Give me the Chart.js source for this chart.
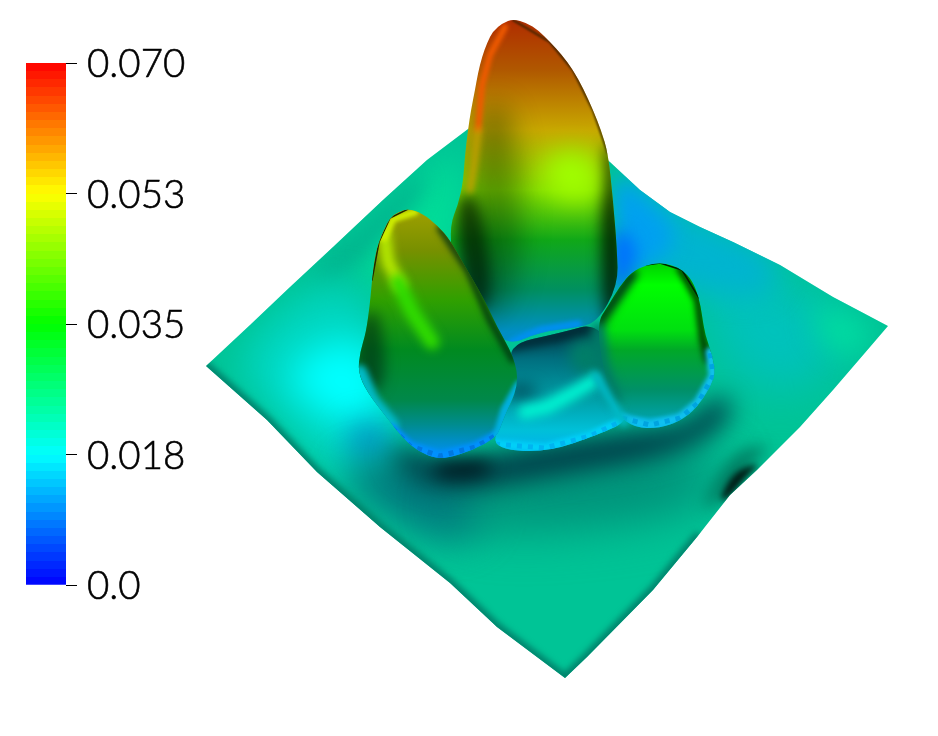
<!DOCTYPE html>
<html>
<head>
<meta charset="utf-8">
<title>Surface</title>
<script src="https://cdn.jsdelivr.net/npm/chart.js@4"></script>
<style>
  html, body { margin: 0; background: #fff; }
  #wrap { position: relative; width: 938px; height: 736px; overflow: hidden; }
  canvas { position: absolute; left: 0; top: 0; }
</style>
</head>
<body>
<div id="wrap">
  <canvas id="surface" width="938" height="736"></canvas>
  <canvas id="colorbar" width="200" height="736"></canvas>
</div>
<script>
// colour bar
const barRange = [0, 0.07];
const tickValues = [0, 0.0175, 0.035, 0.0525, 0.07];
const tickLabels = ["0.0", "0.018", "0.035", "0.053", "0.070"];
const rampColors = ["#0000ff", "#00ffff", "#00ff00", "#ffff00", "#ff0000"];

// outlines, in picture units
const baseOutline = [[206,366],[250,325],[290,287],[333,247],[383,200],[427,160],[468,129],[540,100],[610,162],[640,190],[670,212],[700,227],[733,242],[780,265],[833,297],[888,326],[833,390],[800,427],[757,470],[730,495],[697,537],[653,590],[587,657],[565,678],[497,627],[450,583],[380,527],[317,472],[267,420]];
const bigPeak = [[513,19],[503,23],[493,31],[487,43],[482,57],[478,73],[475,90],[471,110],[468,130],[465,155],[463,183],[458,205],[450,225],[452,260],[470,300],[492,330],[510,345],[540,332],[573,328],[597,323],[618,285],[617,250],[613,200],[608,153],[601,130],[593,110],[583,88],[573,70],[562,55],[550,42],[538,30],[527,23]];
const leftPeak = [[408,209],[398,212],[390,218],[384,230],[379,242],[375,256],[372,280],[370,303],[366,333],[360,352],[358,372],[367,392],[387,418],[407,443],[427,456],[445,459],[473,450],[497,437],[503,420],[519,385],[514,357],[497,327],[483,297],[463,263],[450,240],[438,226],[422,213]];
const rightPeak = [[660,263],[646,265],[632,272],[620,286],[608,306],[597,323],[603,370],[618,415],[635,428],[660,428],[680,421],[697,408],[716,378],[713,357],[705,335],[702,315],[699,298],[692,280],[682,270],[672,265]];
const ringBand = [[505,345],[560,333],[600,322],[625,380],[630,420],[600,434],[545,453],[490,448],[503,420],[519,385]];

// soft patches on the floor
const patchTopLeft = [[345,250],[430,172],[468,140],[462,290],[385,300]];
const patchEdgeTopLeft = [[300,285],[383,205],[427,168],[420,200],[340,280]];
const patchLeftTeal = [[225,362],[320,275],[385,305],[400,450],[340,490],[280,420]];
const patchLeftCyan = [[275,380],[330,335],[385,350],[385,425],[345,430]];
const patchLeftBlue = [[335,438],[375,412],[400,450],[370,470]];
const patchLowerLeft = [[330,470],[385,455],[500,480],[470,550],[395,525]];
const patchMiddle = [[430,490],[740,440],[705,510],[565,530],[465,530]];
const patchShadow = [[385,440],[450,468],[500,452],[620,432],[690,425],[720,390],[738,415],[680,456],[560,476],[470,492],[405,482]];
const patchShadowCore = [[425,464],[495,458],[490,476],[440,480]];
const patchRight = [[640,240],[780,272],[860,330],[800,400],[725,375],[700,280]];
const patchCorner = [[800,298],[885,327],[840,368]];
const patchTopEdge = [[612,160],[670,205],[735,235],[780,262],[770,300],[700,290],[640,280]];
const patchBlue = [[612,165],[640,195],[680,232],[660,262],[620,285]];
const patchDeepBlue = [[612,222],[640,245],[628,288],[612,295]];
const patchStreakHalo = [[775,445],[750,462],[715,505],[700,510],[735,450]];
const patchStreak = [[762,463],[748,474],[726,501],[719,499],[735,470]];
const rimLower = [[206,366],[267,420],[317,472],[380,527],[450,583],[497,627],[565,678],[587,657],[653,590],[697,537]];

// shading on the big peak
const bigShadeLeft = [[465,130],[505,90],[525,190],[515,300],[470,335]];
const bigShadeLow = [[452,200],[478,190],[495,300],[470,320]];
const bigShadeRight = [[602,120],[622,180],[624,330],[600,330]];
const bigGlow = [[535,160],[590,145],[604,195],[560,205]];
const bigRimLeft = [[505,27],[490,55],[482,85],[478,130]];
const bigRimLower = [[478,130],[474,165],[470,190]];
const bigFoot = [[512,342],[540,330],[578,324]];
const bigEdgeTop = [[513,20],[550,42],[573,70],[593,110],[608,153]];

// shading on the left peak
const leftHighlightTop = [[384,232],[388,262],[400,285]];
const leftHighlight = [[398,282],[412,312],[432,342]];
const leftShadow = [[358,320],[380,305],[388,392],[355,392]];
const leftEdge = [[440,228],[468,270],[490,320],[513,360]];
const leftTop = [[384,238],[393,219],[415,212]];
const leftSkirt = [[360,372],[372,400],[392,425]];
const leftFoot = [[392,428],[410,446],[440,456],[475,447],[497,435]];
const leftFootRight = [[497,437],[505,410],[519,385]];
const leftLine = [[408,209],[390,218],[379,242],[372,280]];

// shading on the right peak
const rightEdge = [[680,268],[698,300],[703,340],[708,360]];
const rightShadow = [[632,274],[612,303],[597,325]];
const rightSeam = [[598,330],[602,365],[614,398]];
const rightFoot = [[622,418],[650,425],[680,418],[698,403],[713,376],[710,352]];
const rightLine = [[646,265],[660,263],[682,270],[699,298]];

// ring between the peaks
const ringTop = [[510,346],[560,336],[598,328]];
const ringRidge = [[525,412],[547,407],[575,392],[597,379]];
const ringFoot = [[495,444],[545,448],[590,436],[620,422]];
const ringStrip = [[596,376],[610,400],[624,422]];
const ringHollow = [[505,385],[535,385],[540,395],[508,400]];
const ringGreen = [[565,345],[600,335],[605,372],[575,375]];

// draws one outline through the chart scales
const tracePath = (ctx, chart, pts, smooth, open) => {
  const p = pts.map(([x, y]) => [chart.scales.x.getPixelForValue(x), chart.scales.y.getPixelForValue(y)]);
  ctx.beginPath();
  if (open || !smooth) {
    p.forEach(([x, y], i) => (i ? ctx.lineTo(x, y) : ctx.moveTo(x, y)));
    if (!open) ctx.closePath();
    return;
  }
  const n = p.length;
  const mid = (a, b) => [(a[0] + b[0]) / 2, (a[1] + b[1]) / 2];
  ctx.moveTo(...mid(p[n - 1], p[0]));
  p.forEach((pt, i) => ctx.quadraticCurveTo(pt[0], pt[1], ...mid(pt, p[(i + 1) % n])));
  ctx.closePath();
};

class RegionController extends Chart.LineController {
  draw() {
    const ds = this.getDataset();
    const chart = this.chart;
    const ctx = chart.ctx;
    ctx.save();
    if (ds.clipTo) {
      tracePath(ctx, chart, ds.clipTo, ds.clipTo !== baseOutline);
      ctx.clip();
    }
    if (ds.blur) ctx.filter = `blur(${ds.blur}px)`;
    tracePath(ctx, chart, ds.pts, ds.smooth, ds.open);
    if (ds.open) {
      ctx.strokeStyle = ds.color;
      ctx.lineWidth = ds.width;
      ctx.lineCap = ds.dash ? "butt" : "round";
      ctx.lineJoin = "round";
      if (ds.dash) ctx.setLineDash(ds.dash);
      ctx.stroke();
    } else {
      let fill = ds.color;
      if (ds.stops) {
        const y0 = ds.stops[0][0];
        const y1 = ds.stops[ds.stops.length - 1][0];
        fill = ctx.createLinearGradient(0, chart.scales.y.getPixelForValue(y0), 0, chart.scales.y.getPixelForValue(y1));
        ds.stops.forEach(([y, c]) => fill.addColorStop((y - y0) / (y1 - y0), c));
      }
      ctx.fillStyle = fill;
      ctx.fill();
    }
    ctx.restore();
  }
}
RegionController.id = "region";
RegionController.defaults = Chart.LineController.defaults;
Chart.register(RegionController);

const area = (pts, color, blur, clipTo) => ({ pts, color, blur, clipTo, smooth: true });
const band = (pts, color, width, blur, clipTo) => ({ pts, color, width, blur, clipTo, open: true });
const teeth = (pts, color, width, clipTo) => ({ pts, color, width, clipTo, open: true, dash: [5, 6] });
const shaded = (pts, stops) => ({ pts, stops, smooth: true });

// bottom layer first
const layers = [
  { pts: baseOutline, color: "#00c496" },
  area(patchTopLeft, "#00dc98", 18, baseOutline),
  area(patchEdgeTopLeft, "#00b48e", 10, baseOutline),
  area(patchLeftTeal, "#00d6c0", 18, baseOutline),
  area(patchLeftCyan, "#00ffff", 18, baseOutline),
  area(patchLeftBlue, "#00a0c8", 14, baseOutline),
  area(patchLowerLeft, "#007c80", 18, baseOutline),
  area(patchMiddle, "#008e78", 24, baseOutline),
  area(patchRight, "#00c2bc", 24, baseOutline),
  area(patchCorner, "#00dca0", 14, baseOutline),
  area(patchTopEdge, "#00b4d0", 14, baseOutline),
  area(patchBlue, "#00a0f0", 10, baseOutline),
  area(patchDeepBlue, "#0070ff", 8, baseOutline),
  area(patchShadow, "#003c48", 13, baseOutline),
  area(patchShadowCore, "#00141c", 9, baseOutline),
  area(patchStreakHalo, "#007058", 8, baseOutline),
  area(patchStreak, "#001a14", 3, baseOutline),
  band(rimLower, "#00806a", 9, 3, baseOutline),

  shaded(bigPeak, [[19,"#b02c00"],[70,"#b05800"],[130,"#c8a800"],[190,"#88e000"],[240,"#10a818"],[290,"#009060"],[332,"#0090c8"]]),
  area(bigShadeLeft, "rgba(0,30,0,0.38)", 14, bigPeak),
  area(bigShadeLow, "rgba(0,15,0,0.65)", 7, bigPeak),
  area(bigShadeRight, "rgba(0,20,0,0.8)", 7, bigPeak),
  area(bigGlow, "#a0ff00", 13, bigPeak),
  band(bigRimLeft, "#f05a00", 6, 2, bigPeak),
  band(bigRimLower, "#c8a000", 6, 3, bigPeak),
  band(bigEdgeTop, "#302000", 2, 1, bigPeak),
  band(bigFoot, "#0090f0", 7, 2, bigPeak),

  shaded(ringBand, [[322,"#00303c"],[360,"#007080"],[400,"#00a0a8"],[430,"#00c0d8"],[453,"#00b0f0"]]),
  band(ringTop, "#002430", 9, 5, ringBand),
  area(ringGreen, "#007e68", 7, ringBand),
  area(ringHollow, "#004454", 8, ringBand),
  band(ringRidge, "#00f0d0", 14, 5, ringBand),
  band(ringFoot, "#00d0f8", 9, 2, ringBand),
  teeth(ringFoot, "#00b4f0", 5, ringBand),

  shaded(leftPeak, [[209,"#a0a000"],[250,"#789000"],[300,"#30a000"],[350,"#008a20"],[400,"#00884a"],[425,"#008c90"],[458,"#0090ff"]]),
  band(leftHighlightTop, "#b4e800", 13, 4, leftPeak),
  band(leftHighlight, "#30dc00", 15, 5, leftPeak),
  area(leftShadow, "rgba(0,40,20,0.6)", 7, leftPeak),
  band(leftEdge, "#003010", 6, 3, leftPeak),
  band(leftTop, "#d0f000", 7, 2, leftPeak),
  band(leftLine, "#202800", 1.5, 0, leftPeak),
  band(leftSkirt, "#00bcc8", 14, 3, leftPeak),
  band(leftFoot, "#0090ff", 9, 2, leftPeak),
  band(leftFootRight, "#00b0e0", 9, 2, leftPeak),
  teeth(leftFoot, "#0078e0", 5, leftPeak),

  shaded(rightPeak, [[263,"#00d000"],[285,"#00ff00"],[330,"#00e010"],[350,"#00a828"],[390,"#009068"],[415,"#00a0a0"],[428,"#00c0ff"]]),
  band(rightEdge, "#003000", 7, 3, rightPeak),
  band(rightShadow, "#003018", 11, 4, rightPeak),
  band(rightSeam, "#007a66", 14, 5),
  band(rightLine, "#002000", 1.5, 0, rightPeak),
  band(rightFoot, "#10c0f0", 9, 2, rightPeak),
  teeth(rightFoot, "#00a4e0", 5, rightPeak),
  band(ringStrip, "#00b8c4", 9, 3),
];

new Chart(document.getElementById("surface"), {
  type: "region",
  data: {
    datasets: layers.slice().reverse().map((l) => ({
      ...l,
      data: l.pts.map(([x, y]) => ({ x, y })),
      parsing: false,
      pointRadius: 0,
    })),
  },
  options: {
    responsive: false,
    animation: false,
    events: [],
    layout: { padding: 0 },
    plugins: { legend: { display: false }, tooltip: { enabled: false } },
    scales: {
      x: { type: "linear", min: 0, max: 938, display: false },
      y: { type: "linear", min: 0, max: 736, reverse: true, display: false },
    },
  },
});

const barFill = (context) => {
  const { chart } = context;
  if (!chart.chartArea) return "#000";
  const g = chart.ctx.createLinearGradient(0, chart.chartArea.bottom, 0, chart.chartArea.top);
  // the bar is banded, so every step holds one flat colour
  const steps = 64;
  const parts = rampColors.length - 1;
  const toRgb = (h) => [1, 3, 5].map((i) => parseInt(h.slice(i, i + 2), 16));
  for (let s = 0; s < steps; s++) {
    const t = ((s + 0.5) / steps) * parts;
    const i = Math.min(Math.floor(t), parts - 1);
    const a = toRgb(rampColors[i]);
    const b = toRgb(rampColors[i + 1]);
    const rgb = a.map((v, k) => Math.round(v + (b[k] - v) * (t - i)));
    const c = `rgb(${rgb.join(",")})`;
    g.addColorStop(s / steps, c);
    g.addColorStop((s + 1) / steps, c);
  }
  return g;
};

new Chart(document.getElementById("colorbar"), {
  type: "bar",
  data: {
    labels: [""],
    datasets: [{ data: [barRange], backgroundColor: barFill, barPercentage: 1, categoryPercentage: 1 }],
  },
  options: {
    responsive: false,
    animation: false,
    events: [],
    layout: { padding: { left: 26, top: 63, bottom: 151, right: 0 } },
    plugins: { legend: { display: false }, tooltip: { enabled: false } },
    scales: {
      x: { display: false },
      y: {
        position: "right",
        min: barRange[0],
        max: barRange[1],
        border: { display: false },
        grid: { drawOnChartArea: false, tickLength: 11, tickColor: "#000", tickWidth: 1 },
        afterFit: (scale) => { scale.width = 134; },
        afterBuildTicks: (scale) => { scale.ticks = tickValues.map((value) => ({ value })); },
        ticks: {
          autoSkip: false,
          maxRotation: 0,
          padding: 10,
          labelOffset: 2,
          color: "#000",
          textStrokeColor: "#000",
          textStrokeWidth: 0.6,
          font: { family: "Lato", size: 38.5, weight: "300" },
          callback: (value, index) => tickLabels[index],
        },
      },
    },
  },
});
</script>
</body>
</html>
